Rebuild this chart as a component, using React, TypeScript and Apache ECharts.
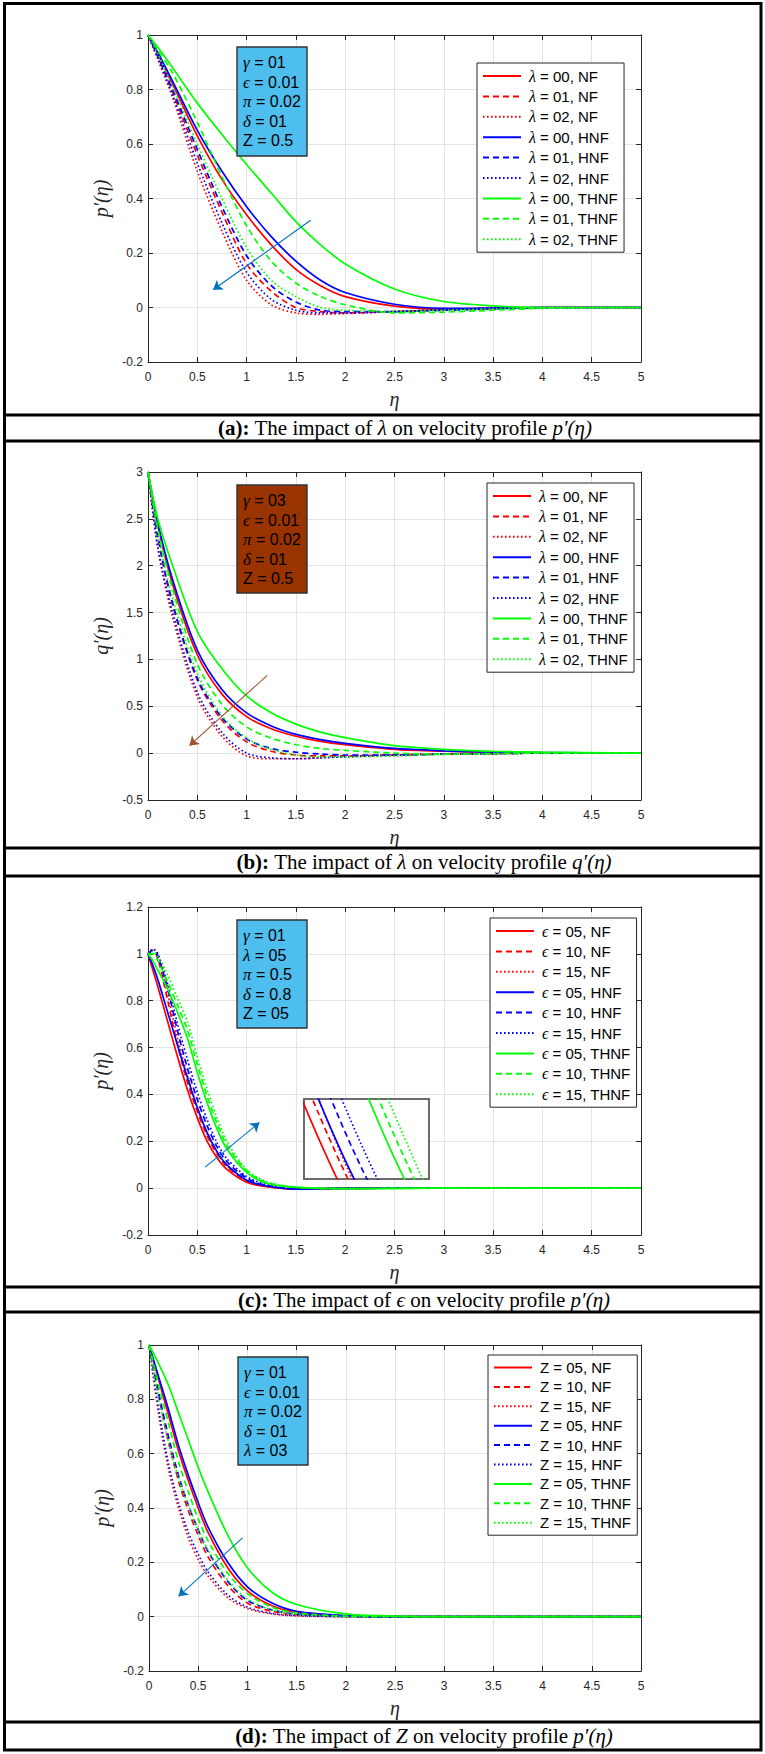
import React, { useEffect, useRef } from 'react';
import * as echarts from 'echarts';

// ---------- DATA ----------
// (a) impact of lambda on p'(eta)
const etaA = [0, 0.1, 0.25, 0.5, 0.75, 1, 1.25, 1.5, 1.75, 2, 2.5, 3, 3.5, 4, 5];
const a_NF = [
  [1, 0.93, 0.82, 0.63, 0.47, 0.34, 0.23, 0.14, 0.08, 0.04, 0.005, -0.006, -0.003, 0, 0],
  [1, 0.92, 0.79, 0.56, 0.35, 0.16, 0.06, 0.0, -0.015, -0.02, -0.015, -0.008, -0.003, 0, 0],
  [1, 0.91, 0.77, 0.5, 0.28, 0.1, 0.01, -0.02, -0.025, -0.022, -0.015, -0.008, -0.003, 0, 0],
];
const a_HNF = [
  [1, 0.935, 0.83, 0.65, 0.5, 0.37, 0.26, 0.17, 0.1, 0.055, 0.012, -0.003, -0.002, 0, 0],
  [1, 0.925, 0.8, 0.58, 0.37, 0.19, 0.08, 0.02, -0.01, -0.015, -0.015, -0.01, -0.005, 0, 0],
  [1, 0.915, 0.78, 0.53, 0.31, 0.13, 0.03, -0.01, -0.02, -0.02, -0.015, -0.008, -0.003, 0, 0],
];
const a_THNF = [
  [1, 0.955, 0.88, 0.75, 0.635, 0.525, 0.42, 0.315, 0.23, 0.16, 0.068, 0.022, 0.006, 0, 0],
  [1, 0.945, 0.86, 0.68, 0.48, 0.3, 0.17, 0.09, 0.04, 0.01, -0.02, -0.017, -0.01, -0.003, 0],
  [1, 0.93, 0.81, 0.6, 0.4, 0.22, 0.1, 0.04, 0.0, -0.01, -0.015, -0.01, -0.005, 0, 0],
];

// (b) impact of lambda on q'(eta)
const etaB = [0, 0.1, 0.25, 0.5, 0.75, 1, 1.25, 1.5, 1.75, 2, 2.5, 3, 3.5, 4, 5];
const b_NF = [
  [3, 2.43, 1.8, 1.05, 0.63, 0.39, 0.26, 0.18, 0.125, 0.09, 0.04, 0.02, 0.01, 0.005, 0],
  [3, 2.3, 1.58, 0.78, 0.35, 0.12, 0.02, -0.02, -0.03, -0.03, -0.02, -0.01, -0.005, 0, 0],
  [3, 2.18, 1.45, 0.6, 0.18, -0.03, -0.06, -0.06, -0.05, -0.035, -0.02, -0.01, -0.005, 0, 0],
];
const b_HNF = [
  [3, 2.45, 1.85, 1.1, 0.68, 0.43, 0.29, 0.2, 0.145, 0.105, 0.05, 0.025, 0.01, 0.005, 0],
  [3, 2.32, 1.6, 0.8, 0.38, 0.15, 0.05, 0.01, -0.01, -0.02, -0.02, -0.01, -0.005, 0, 0],
  [3, 2.2, 1.5, 0.65, 0.22, 0.0, -0.05, -0.06, -0.05, -0.04, -0.02, -0.01, -0.005, 0, 0],
];
const b_THNF = [
  [3, 2.5, 2.0, 1.3, 0.9, 0.61, 0.43, 0.31, 0.225, 0.165, 0.08, 0.04, 0.02, 0.01, 0],
  [3, 2.4, 1.75, 0.95, 0.52, 0.28, 0.16, 0.09, 0.05, 0.03, 0.0, -0.01, -0.005, 0, 0],
  [3, 2.35, 1.65, 0.85, 0.4, 0.16, 0.04, -0.02, -0.04, -0.04, -0.03, -0.015, -0.005, 0, 0],
];

// (c) impact of epsilon on p'(eta)
const etaC = [0, 0.05, 0.1, 0.2, 0.3, 0.4, 0.5, 0.6, 0.7, 0.8, 1.0, 1.2, 1.5, 2, 3, 5];
const c_NF = [
  [1, 0.93, 0.86, 0.71, 0.56, 0.42, 0.3, 0.2, 0.13, 0.08, 0.025, 0.006, -0.004, 0, 0, 0],
  [1, 1.015, 0.98, 0.8, 0.61, 0.452, 0.328, 0.223, 0.146, 0.092, 0.03, 0.008, -0.004, -0.001, 0, 0],
  [1, 1.02, 1.0, 0.83, 0.64, 0.48, 0.345, 0.232, 0.153, 0.097, 0.033, 0.009, -0.004, -0.001, 0, 0],
];
const c_HNF = [
  [1, 0.95, 0.89, 0.75, 0.61, 0.472, 0.344, 0.237, 0.156, 0.099, 0.034, 0.009, -0.004, -0.001, 0, 0],
  [1, 1.015, 0.99, 0.85, 0.67, 0.512, 0.379, 0.266, 0.176, 0.113, 0.043, 0.012, -0.003, -0.001, 0, 0],
  [1, 1.02, 1.0, 0.87, 0.7, 0.549, 0.41, 0.292, 0.194, 0.126, 0.05, 0.015, -0.002, -0.001, 0, 0],
];
const c_THNF = [
  [1, 0.97, 0.93, 0.85, 0.75, 0.64, 0.494, 0.364, 0.253, 0.167, 0.067, 0.021, 0.003, -0.002, 0, 0],
  [1, 1.0, 0.97, 0.88, 0.78, 0.675, 0.528, 0.392, 0.277, 0.184, 0.075, 0.025, 0.004, -0.002, 0, 0],
  [1, 1.01, 0.99, 0.91, 0.81, 0.71, 0.56, 0.42, 0.3, 0.2, 0.08, 0.028, 0.005, -0.002, 0, 0],
];
// zoomed window of the inset in panel (c)
const insetX = [0.47, 0.76];
const insetY = [0.25, 0.34];

// (d) impact of Z on p'(eta)
const etaD = [0, 0.1, 0.2, 0.3, 0.4, 0.5, 0.6, 0.8, 1.0, 1.25, 1.5, 2, 2.5, 3, 5];
const d_NF = [
  [1, 0.87, 0.74, 0.61, 0.5, 0.4, 0.31, 0.18, 0.095, 0.04, 0.017, 0.003, 0, 0, 0],
  [1, 0.81, 0.64, 0.5, 0.39, 0.3, 0.22, 0.115, 0.05, 0.02, 0.008, 0.001, 0, 0, 0],
  [1, 0.74, 0.54, 0.4, 0.29, 0.21, 0.15, 0.07, 0.03, 0.01, 0.003, 0, 0, 0, 0],
];
const d_HNF = [
  [1, 0.88, 0.76, 0.63, 0.52, 0.42, 0.33, 0.2, 0.11, 0.05, 0.02, 0.004, 0, 0, 0],
  [1, 0.82, 0.66, 0.52, 0.41, 0.32, 0.24, 0.13, 0.06, 0.025, 0.01, 0.001, 0, 0, 0],
  [1, 0.76, 0.56, 0.42, 0.31, 0.23, 0.165, 0.08, 0.035, 0.012, 0.004, 0, 0, 0, 0],
];
const d_THNF = [
  [1, 0.93, 0.85, 0.75, 0.65, 0.55, 0.46, 0.3, 0.18, 0.09, 0.045, 0.01, 0.002, 0, 0],
  [1, 0.85, 0.71, 0.57, 0.46, 0.36, 0.28, 0.16, 0.085, 0.035, 0.014, 0.002, 0, 0, 0],
  [1, 0.8, 0.64, 0.51, 0.41, 0.32, 0.245, 0.135, 0.065, 0.025, 0.009, 0.001, 0, 0, 0],
];

// arrows [tail, head] in data coordinates
const arrowA = [[1.65, 0.32], [0.66, 0.065]];
const arrowB = [[1.21, 0.83], [0.42, 0.08]];
const arrowC = [[0.58, 0.09], [1.13, 0.28]];
const arrowD = [[0.95, 0.29], [0.3, 0.075]];

// legends
const legendA = ['λ = 00, NF', 'λ = 01, NF', 'λ = 02, NF', 'λ = 00, HNF', 'λ = 01, HNF', 'λ = 02, HNF', 'λ = 00, THNF', 'λ = 01, THNF', 'λ = 02, THNF'];
const legendB = ['λ = 00, NF', 'λ = 01, NF', 'λ = 02, NF', 'λ = 00, HNF', 'λ = 01, HNF', 'λ = 02, HNF', 'λ = 00, THNF', 'λ = 01, THNF', 'λ = 02, THNF'];
const legendC = ['ϵ = 05, NF', 'ϵ = 10, NF', 'ϵ = 15, NF', 'ϵ = 05, HNF', 'ϵ = 10, HNF', 'ϵ = 15, HNF', 'ϵ = 05, THNF', 'ϵ = 10, THNF', 'ϵ = 15, THNF'];
const legendD = ['Z = 05, NF', 'Z = 10, NF', 'Z = 15, NF', 'Z = 05, HNF', 'Z = 10, HNF', 'Z = 15, HNF', 'Z = 05, THNF', 'Z = 10, THNF', 'Z = 15, THNF'];

// parameter boxes
const infoA = ['γ = 01', 'ϵ = 0.01', 'π = 0.02', 'δ = 01', 'Z = 0.5'];
const infoB = ['γ = 03', 'ϵ = 0.01', 'π = 0.02', 'δ = 01', 'Z = 0.5'];
const infoC = ['γ = 01', 'λ = 05', 'π = 0.5', 'δ = 0.8', 'Z = 05'];
const infoD = ['γ = 01', 'ϵ = 0.01', 'π = 0.02', 'δ = 01', 'λ = 03'];

// axes
const xTicksMin = 0;
const xTicksMax = 5;
const xTickStep = 0.5;
const yMins = [-0.2, -0.5, -0.2, -0.2];
const yMaxs = [1, 3, 1.2, 1];
const ySteps = [0.2, 0.5, 0.2, 0.2];
const yNames = ['p′(η)', 'q′(η)', 'p′(η)', 'p′(η)'];
const xName = 'η';

// captions
const capLetters = ['(a):', '(b):', '(c):', '(d):'];
const capParams = ['λ', 'λ', 'ϵ', 'Z'];
const capFuncs = ['p′(η)', 'q′(η)', 'p′(η)', 'p′(η)'];

// ---------- STYLE / LAYOUT ----------
const SANS = "'Liberation Sans', Arial, Helvetica, 'DejaVu Sans', sans-serif";
const SERIF = "'Liberation Serif', 'Times New Roman', 'DejaVu Serif', serif";
const AX = '#262626';
const FLUID_COLORS = ['#FF0000', '#0000FF', '#00FF00'];
const DASHES: any[] = ['solid', [6, 4], [1.6, 2.4]];

const PANELS = [
  { eta: etaA, data: [a_NF, a_HNF, a_THNF], legend: legendA, info: infoA, arrow: arrowA,
    grid: { left: 148, top: 35, width: 493, height: 327 }, leg: { left: 477, top: 63 },
    box: { x: 237, y: 47, w: 70, h: 109 }, boxFill: '#4DBEEE', arrowColor: '#0072BD', capX: 405, capY: 428 },
  { eta: etaB, data: [b_NF, b_HNF, b_THNF], legend: legendB, info: infoB, arrow: arrowB,
    grid: { left: 148, top: 472, width: 493, height: 328 }, leg: { left: 487, top: 483 },
    box: { x: 237, y: 485, w: 70, h: 108 }, boxFill: '#993300', arrowColor: '#A0522D', capX: 424, capY: 862 },
  { eta: etaC, data: [c_NF, c_HNF, c_THNF], legend: legendC, info: infoC, arrow: arrowC,
    grid: { left: 148, top: 907, width: 493, height: 328 }, leg: { left: 490, top: 918 },
    box: { x: 237, y: 920, w: 70, h: 108 }, boxFill: '#4DBEEE', arrowColor: '#0072BD', capX: 424, capY: 1300 },
  { eta: etaD, data: [d_NF, d_HNF, d_THNF], legend: legendD, info: infoD, arrow: arrowD,
    grid: { left: 149, top: 1345, width: 492, height: 326 }, leg: { left: 488, top: 1355 },
    box: { x: 238, y: 1357, w: 70, h: 108 }, boxFill: '#4DBEEE', arrowColor: '#0072BD', capX: 424, capY: 1736 },
];
const INSET_GRID = { left: 304, top: 1099, width: 125, height: 80 };
const ROW_LINES = [415, 441, 848, 876, 1287, 1312, 1722];

const greek = (s: string) => s.replace(/([γϵπδλ])/g, '{g|$1}');

function buildOption() {
  const grids: any[] = [];
  const xAxes: any[] = [];
  const yAxes: any[] = [];
  const series: any[] = [];
  const legends: any[] = [];
  const graphics: any[] = [];

  PANELS.forEach((p, i) => {
    grids.push({ ...p.grid, show: false, containLabel: false });
    const tick = { show: true, inside: true, length: 5, lineStyle: { color: AX, width: 1 } };
    const line = { show: true, onZero: false, lineStyle: { color: AX, width: 1 } };
    xAxes.push({
      type: 'value', gridIndex: i, position: 'bottom', min: xTicksMin, max: xTicksMax, interval: xTickStep,
      axisLine: line, axisTick: tick,
      axisLabel: { color: AX, fontSize: 12, fontFamily: SANS, margin: 9 },
      splitLine: { show: true, lineStyle: { color: '#e3e3e3', width: 1 } },
      name: xName, nameLocation: 'middle', nameGap: 27,
      nameTextStyle: { fontFamily: SERIF, fontStyle: 'italic', fontSize: 20, color: AX },
    });
    xAxes.push({
      type: 'value', gridIndex: i, position: 'top', min: xTicksMin, max: xTicksMax, interval: xTickStep,
      axisLine: line, axisTick: tick, axisLabel: { show: false }, splitLine: { show: false },
    });
    yAxes.push({
      type: 'value', gridIndex: i, position: 'left', min: yMins[i], max: yMaxs[i], interval: ySteps[i],
      axisLine: line, axisTick: tick,
      axisLabel: { color: AX, fontSize: 12, fontFamily: SANS, margin: 5 },
      splitLine: { show: true, lineStyle: { color: '#e3e3e3', width: 1 } },
      name: yNames[i], nameLocation: 'middle', nameGap: 33, nameRotate: 90,
      nameTextStyle: { fontFamily: SERIF, fontStyle: 'italic', fontSize: 20, color: AX },
    });
    yAxes.push({
      type: 'value', gridIndex: i, position: 'right', min: yMins[i], max: yMaxs[i], interval: ySteps[i],
      axisLine: line, axisTick: tick, axisLabel: { show: false }, splitLine: { show: false },
    });

    p.data.forEach((fluid, f) => {
      fluid.forEach((vals, k) => {
        series.push({
          type: 'line', name: p.legend[f * 3 + k], xAxisIndex: 2 * i, yAxisIndex: 2 * i,
          data: p.eta.map((x, j) => [x, vals[j]]),
          symbol: 'none', showSymbol: false, smooth: 0.3,
          lineStyle: { color: FLUID_COLORS[f], width: 1.7, type: DASHES[k] },
          itemStyle: { color: FLUID_COLORS[f] }, z: 2, silent: true,
        });
      });
    });

    series.push({
      type: 'lines', coordinateSystem: 'cartesian2d', xAxisIndex: 2 * i, yAxisIndex: 2 * i,
      data: [{ coords: p.arrow }], symbol: ['none', 'arrow'], symbolSize: 9,
      lineStyle: { color: p.arrowColor, width: 1.1, opacity: 1, curveness: 0 }, z: 5, silent: true,
    });

    legends.push({
      show: true, orient: 'vertical', left: p.leg.left, top: p.leg.top, data: p.legend,
      itemWidth: 38, itemHeight: 14, itemGap: 4.4, padding: [5, 6, 5, 5],
      backgroundColor: '#fff', borderColor: AX, borderWidth: 1, selectedMode: false,
      lineStyle: { width: 2 },
      itemStyle: { opacity: 0, borderWidth: 0 },
      formatter: (n: string) => greek(n),
      textStyle: {
        fontFamily: SANS, fontSize: 15, lineHeight: 14, color: '#000', padding: [0, 0, 0, 3],
        rich: { g: { fontFamily: SERIF, fontStyle: 'italic', fontSize: 16, lineHeight: 14, color: '#000' } },
      },
    });

    // info box
    graphics.push({
      type: 'rect', z: 10, shape: { x: p.box.x, y: p.box.y, width: p.box.w, height: p.box.h },
      style: { fill: p.boxFill, stroke: '#333', lineWidth: 1.4 },
    });
    graphics.push({
      type: 'text', z: 11, x: p.box.x + 6, y: p.box.y + 6,
      style: {
        text: p.info.map(greek).join('\n'), fill: '#000', fontFamily: SANS, fontSize: 16, lineHeight: 19.5,
        rich: { g: { fontFamily: SERIF, fontStyle: 'italic', fontSize: 17, lineHeight: 19.5, fill: '#000' } },
      },
    });

    // caption
    graphics.push({
      type: 'text', z: 10, x: p.capX, y: p.capY,
      style: {
        text: `{b|${capLetters[i]}}{r| The impact of }{i|${capParams[i]}}{r| on velocity profile }{i|${capFuncs[i]}}`,
        align: 'center', verticalAlign: 'middle', fill: '#000',
        rich: {
          b: { fontFamily: SERIF, fontWeight: 'bold', fontSize: 21, fill: '#000' },
          r: { fontFamily: SERIF, fontSize: 21, fill: '#000' },
          i: { fontFamily: SERIF, fontStyle: 'italic', fontSize: 21, fill: '#000' },
        },
      },
    });
  });

  // inset in panel (c)
  grids.push({ ...INSET_GRID, show: true, backgroundColor: '#fff', borderColor: '#6b6b6b', borderWidth: 2, z: 3 });
  xAxes.push({ type: 'value', gridIndex: 4, min: insetX[0], max: insetX[1], show: false });
  yAxes.push({ type: 'value', gridIndex: 4, min: insetY[0], max: insetY[1], show: false });
  PANELS[2].data.forEach((fluid, f) => {
    fluid.forEach((vals, k) => {
      series.push({
        type: 'line', name: `inset ${f}-${k}`, xAxisIndex: 8, yAxisIndex: 8,
        data: etaC.map((x, j) => [x, vals[j]]), clip: true,
        symbol: 'none', showSymbol: false, smooth: 0.3,
        lineStyle: { color: FLUID_COLORS[f], width: 1.7, type: DASHES[k] }, z: 4, silent: true,
      });
    });
  });

  // table borders
  graphics.push({
    type: 'rect', z: 20, shape: { x: 4.5, y: 3.5, width: 756.5, height: 1746.5 },
    style: { fill: 'none', stroke: '#000', lineWidth: 3 },
  });
  ROW_LINES.forEach((y) => {
    graphics.push({ type: 'line', z: 20, shape: { x1: 4.5, y1: y, x2: 761, y2: y }, style: { stroke: '#000', lineWidth: 3 } });
  });

  return {
    animation: false,
    backgroundColor: '#fff',
    grid: grids,
    xAxis: xAxes,
    yAxis: yAxes,
    legend: legends,
    series,
    graphic: { elements: graphics },
  };
}

export default function App() {
  const ref = useRef<HTMLDivElement>(null);
  useEffect(() => {
    document.body.style.margin = '0';
    const chart = echarts.init(ref.current as HTMLDivElement, null, { renderer: 'svg' });
    chart.setOption(buildOption() as any);
    return () => chart.dispose();
  }, []);
  return <div ref={ref} style={{ width: 765, height: 1754, background: '#fff' }} />;
}
